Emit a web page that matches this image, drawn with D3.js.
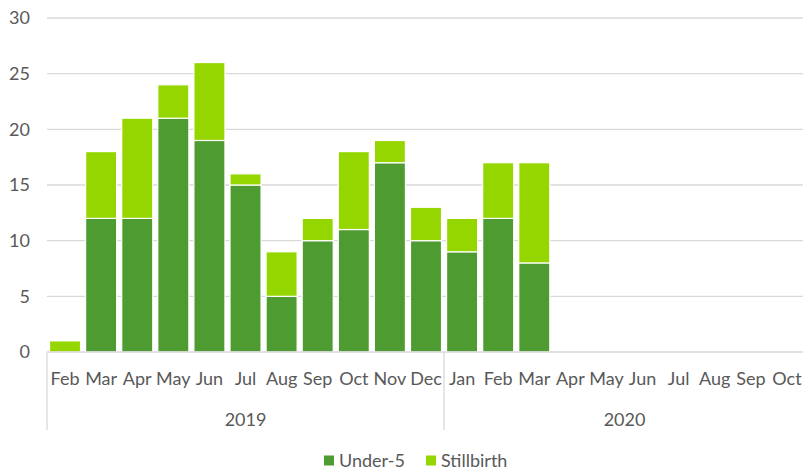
<!DOCTYPE html>
<html><head><meta charset="utf-8">
<script src="https://cdn.jsdelivr.net/npm/d3@7"></script>
<style>body{margin:0;background:#fff}svg{display:block}text{font-family:Lato,"Open Sans",sans-serif;fill:#595959}</style>
</head><body><svg id="c" width="803" height="470"></svg>
<script>
const months = ["Feb","Mar","Apr","May","Jun","Jul","Aug","Sep","Oct","Nov","Dec","Jan","Feb","Mar","Apr","May","Jun","Jul","Aug","Sep","Oct"];
const years = ["2019","2019","2019","2019","2019","2019","2019","2019","2019","2019","2019","2020","2020","2020","2020","2020","2020","2020","2020","2020","2020"];
const under5 = [0,12,12,21,19,15,5,10,11,17,10,9,12,8,0,0,0,0,0,0,0];
const stillbirth = [1,6,9,3,7,1,4,2,7,2,3,3,5,9,0,0,0,0,0,0,0];
const seriesNames = ["Under-5","Stillbirth"];
const colors = ["#4E9B31","#96D600"];
const yTicks = [0,5,10,15,20,25,30];

const svg = d3.select("#c");
const L = 47, R = 805, T = 18, B = 352;
const idx = months.map((m,i)=>i);
const x = d3.scaleBand().domain(idx).range([L,R]).paddingInner(0.14).paddingOuter(0.07);
const y = d3.scaleLinear().domain([0,30]).range([B,T]);

// gridlines
svg.append("g").selectAll("line").data(yTicks.filter(d=>d>0)).join("line")
  .attr("x1",L).attr("x2",R).attr("y1",d=>y(d)).attr("y2",d=>y(d))
  .attr("stroke","#D9D9D9").attr("stroke-width",1.3);

// y labels
const yAxis = d3.axisLeft(y).tickValues(yTicks).tickSize(0).tickPadding(0);
const ya = svg.append("g").attr("transform",`translate(${L-17},0)`).call(yAxis);
ya.select(".domain").remove();
ya.selectAll("text").style("font-size","18px").attr("fill","#595959").attr("font-family","Lato");

// stacked bars
const rows = idx.map(i=>({i, "Under-5":under5[i], "Stillbirth":stillbirth[i]}));
const stack = d3.stack().keys(seriesNames)(rows);
svg.append("g").selectAll("g").data(stack).join("g").attr("fill",(d,k)=>colors[k])
  .selectAll("rect").data(d=>d.filter(p=>p[1]-p[0]>0)).join("rect")
  .attr("x",d=>x(d.data.i)).attr("width",x.bandwidth())
  .attr("y",d=>y(d[1])).attr("height",d=>y(d[0])-y(d[1]))
  .attr("stroke","#fff").attr("stroke-width",1.2);

// x axis line
svg.append("line").attr("x1",L).attr("x2",R).attr("y1",B).attr("y2",B).attr("stroke","#D9D9D9").attr("stroke-width",1.3);

// month labels
svg.append("g").selectAll("text").data(idx).join("text")
  .attr("x",i=>x(i)+x.bandwidth()/2).attr("y",385).attr("text-anchor","middle")
  .style("font-size","18px").text(i=>months[i]);

// year groups
const yearList = Array.from(new Set(years));
yearList.forEach(yr=>{
  const ids = idx.filter(i=>years[i]===yr);
  const x0 = L + ids[0]*(R-L)/months.length;
  const x1 = L + (ids[ids.length-1]+1)*(R-L)/months.length;
  svg.append("text").attr("x",(x0+x1)/2).attr("y",426).attr("text-anchor","middle").style("font-size","18px").text(yr);
  svg.append("line").attr("x1",x0).attr("x2",x0).attr("y1",B).attr("y2",430).attr("stroke","#D9D9D9").attr("stroke-width",1.3);
});

// legend
const leg = svg.append("g");
const legX = [324, 426];
seriesNames.forEach((n,k)=>{
  leg.append("rect").attr("x",legX[k]).attr("y",455.5).attr("width",10).attr("height",10).attr("fill",colors[k]);
  leg.append("text").attr("x",legX[k]+15).attr("y",467).style("font-size","18px").text(n);
});
</script></body></html>
